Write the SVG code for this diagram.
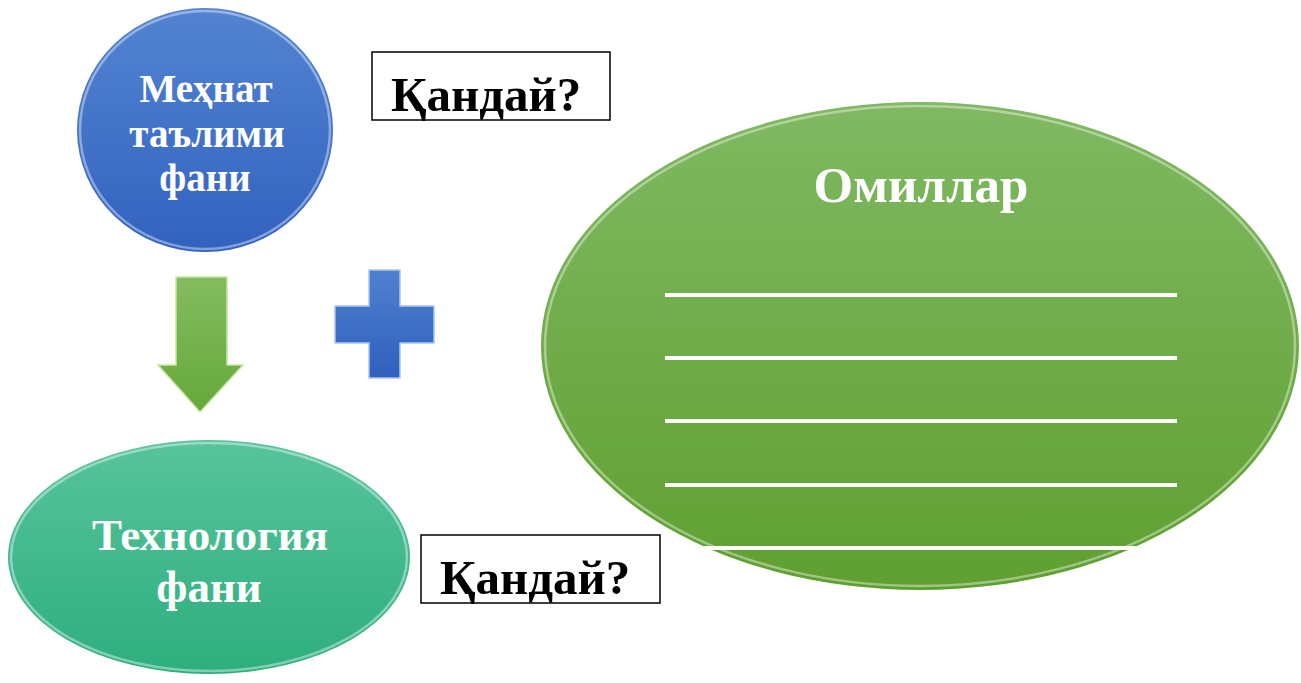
<svg xmlns="http://www.w3.org/2000/svg" width="1301" height="683" viewBox="0 0 1301 683">
<style>
.t{font-family:"Liberation Serif","DejaVu Serif",serif;font-weight:bold;fill:#fff;text-anchor:middle}
.q{font-family:"Liberation Serif","DejaVu Serif",serif;font-weight:bold;fill:#000;font-size:49px}
.box{fill:#fff;stroke:#000;stroke-width:1.5}
.ln{stroke:#fff;stroke-width:4}
.rim{fill:none;stroke:#fff;stroke-opacity:0.4;stroke-width:2.5}
</style>
<defs>
<linearGradient id="gb" x1="0" y1="0" x2="0" y2="1"><stop offset="0" stop-color="#5384d2"/><stop offset="1" stop-color="#3262be"/></linearGradient>
<linearGradient id="gt" x1="0" y1="0" x2="0" y2="1"><stop offset="0" stop-color="#57c49c"/><stop offset="1" stop-color="#2eae7d"/></linearGradient>
<linearGradient id="gg" x1="0" y1="0" x2="0" y2="1"><stop offset="0" stop-color="#80b962"/><stop offset="1" stop-color="#5f9f30"/></linearGradient>
<linearGradient id="ga" x1="0" y1="0" x2="0" y2="1"><stop offset="0" stop-color="#84bc60"/><stop offset="1" stop-color="#66a83a"/></linearGradient>
<linearGradient id="gp" x1="0" y1="0" x2="0" y2="1"><stop offset="0" stop-color="#4f80cf"/><stop offset="1" stop-color="#2f60bd"/></linearGradient>
</defs>
<g id="mehnat">
<ellipse cx="205" cy="130" rx="128" ry="122" fill="url(#gb)"/>
<ellipse cx="205" cy="130" rx="125" ry="119" class="rim"/>
<text class="t" x="206" y="102" font-size="39">Меҳнат</text>
<text class="t" x="207" y="147" font-size="39">таълими</text>
<text class="t" x="205" y="191" font-size="39">фани</text>
</g>
<g id="texnologiya">
<ellipse cx="209" cy="557" rx="201" ry="117" fill="url(#gt)"/>
<ellipse cx="209" cy="557" rx="198" ry="114" class="rim"/>
<text class="t" x="210" y="550" font-size="45">Технология</text>
<text class="t" x="209" y="602" font-size="45">фани</text>
</g>
<g id="omillar">
<ellipse cx="920" cy="346" rx="379" ry="244" fill="url(#gg)"/>
<ellipse cx="920" cy="346" rx="375" ry="240" class="rim"/>
<text class="t" x="921" y="202" font-size="51">Омиллар</text>
<line class="ln" x1="665" y1="295" x2="1177" y2="295"/>
<line class="ln" x1="665" y1="358" x2="1177" y2="358"/>
<line class="ln" x1="665" y1="421" x2="1177" y2="421"/>
<line class="ln" x1="665" y1="485" x2="1177" y2="485"/>
<line class="ln" x1="665" y1="548" x2="1177" y2="548"/>
</g>
<g id="kanday1">
<rect class="box" x="372" y="52" width="238" height="68"/>
<text class="q" x="391" y="111">Қандай?</text>
</g>
<g id="kanday2">
<rect class="box" x="421" y="535" width="239" height="68"/>
<text class="q" x="440" y="594">Қандай?</text>
</g>
<g id="plus">
<path d="M369 270H400V306H434V343H400V378H369V343H335V306H369Z" fill="url(#gp)" stroke="#a9c6f2" stroke-width="1.5"/>
</g>
<g id="connectors">
<path d="M176 277H227V365H243L200 412L158 365H176Z" fill="url(#ga)" stroke="#c6e6a6" stroke-width="1.5"/>
</g>
</svg>
